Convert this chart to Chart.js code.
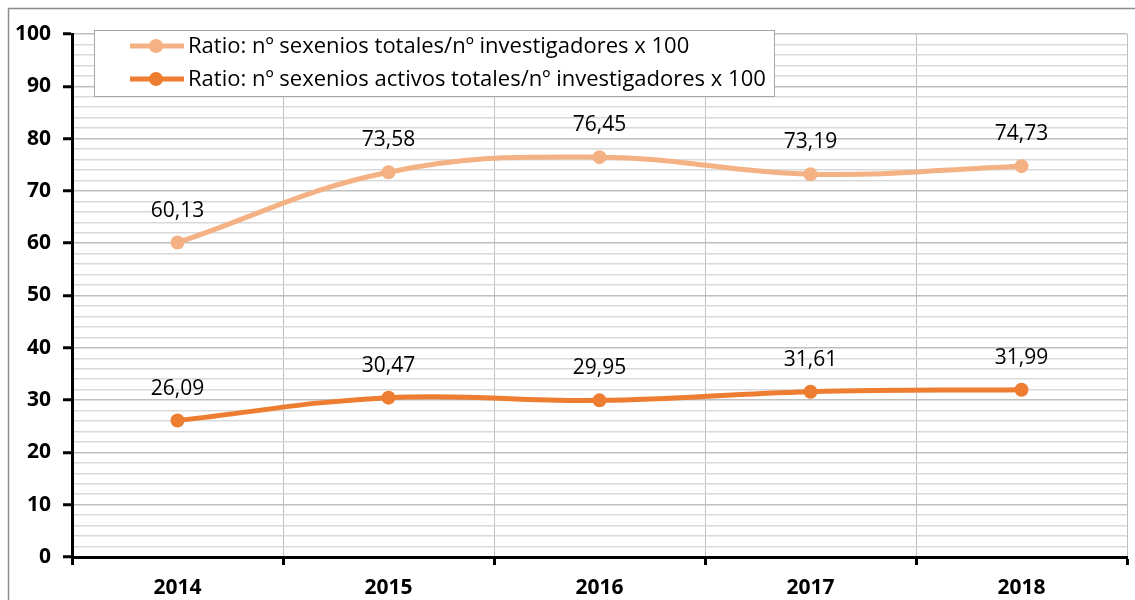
<!DOCTYPE html>
<html>
<head>
<meta charset="utf-8">
<script src="https://cdn.jsdelivr.net/npm/chart.js@4"></script>
<style>
  html, body { margin: 0; padding: 0; background: #fff; }
  #wrap { width: 1135px; height: 600px; }
</style>
</head>
<body>
<div id="wrap"><canvas id="grafica" width="1135" height="600"></canvas></div>
<script>
// datos
const years = ["2014", "2015", "2016", "2017", "2018"];
const ratioTotales = [60.13, 73.58, 76.45, 73.19, 74.73];
const ratioActivos = [26.09, 30.47, 29.95, 31.61, 31.99];
const labelTotales = "Ratio: nº sexenios totales/nº investigadores x 100";
const labelActivos = "Ratio: nº sexenios activos totales/nº investigadores x 100";

const colTotales = "#F4B183";
const colActivos = "#ED7D31";
const fuente = "'Open Sans', 'Liberation Sans', sans-serif";

function fmt(v) { return v.toFixed(2).replace(".", ","); }

// marco exterior, fondo blanco
const marco = {
  id: "marco",
  beforeDraw(chart) {
    const c = chart.ctx;
    c.save();
    c.fillStyle = "#fff";
    c.fillRect(0, 0, chart.width, chart.height);
    c.strokeStyle = "#8c8c8c";
    c.lineWidth = 1.5;
    c.strokeRect(8.5, 8.5, chart.width + 20, chart.height + 20);
    c.restore();
  }
};

// etiquetas de valores encima de los puntos
const etiquetas = {
  id: "etiquetas",
  afterDatasetsDraw(chart) {
    const c = chart.ctx;
    c.save();
    c.font = "21px " + fuente;
    c.fillStyle = "#000";
    c.textAlign = "center";
    c.textBaseline = "middle";
    chart.data.datasets.forEach((ds, i) => {
      chart.getDatasetMeta(i).data.forEach((pt, j) => {
        c.fillText(fmt(ds.data[j]), pt.x, pt.y - 32);
      });
    });
    c.restore();
  }
};

// leyenda dentro del area
const leyenda = {
  id: "leyenda",
  afterDraw(chart) {
    const c = chart.ctx;
    c.save();
    c.fillStyle = "#fff";
    c.fillRect(94, 30, 680, 66);
    c.strokeStyle = "#a6a6a6";
    c.lineWidth = 1;
    c.strokeRect(94.5, 30.5, 680, 66);
    c.font = "22px " + fuente;
    c.textBaseline = "middle";
    chart.data.datasets.forEach((ds, i) => {
      const y = 46 + i * 33;
      c.strokeStyle = ds.borderColor;
      c.lineWidth = 5;
      c.beginPath();
      c.moveTo(130, y);
      c.lineTo(184, y);
      c.stroke();
      c.fillStyle = ds.borderColor;
      c.beginPath();
      c.arc(156, y, 7, 0, Math.PI * 2);
      c.fill();
      c.fillStyle = "#000";
      c.fillText(ds.label, 188, y + 1);
    });
    c.restore();
  }
};

const ctx = document.getElementById("grafica").getContext("2d");

new Chart(ctx, {
  type: "line",
  data: {
    labels: years,
    datasets: [
      {
        label: labelTotales,
        data: ratioTotales,
        borderColor: colTotales,
        backgroundColor: colTotales,
        borderWidth: 5,
        pointRadius: 7,
        pointBorderWidth: 0,
        tension: 0.4
      },
      {
        label: labelActivos,
        data: ratioActivos,
        borderColor: colActivos,
        backgroundColor: colActivos,
        borderWidth: 5,
        pointRadius: 7,
        pointBorderWidth: 0,
        tension: 0.4
      }
    ]
  },
  options: {
    responsive: false,
    animation: false,
    layout: { padding: { left: 0, top: 34, right: 8, bottom: 0 } },
    plugins: {
      legend: { display: false },
      tooltip: { enabled: false }
    },
    scales: {
      x: {
        offset: true,
        grid: {
          offset: true,
          color: "#bfbfbf",
          lineWidth: 1,
          tickLength: 8,
          tickColor: "#000",
          tickWidth: 3
        },
        border: { color: "#000", width: 3 },
        ticks: {
          color: "#000",
          padding: 10,
          font: { family: fuente, size: 21, weight: "bold" }
        },
        afterFit(s) { s.height = 43; }
      },
      y: {
        min: 0,
        max: 100,
        ticks: {
          stepSize: 2,
          autoSkip: false,
          color: "#000",
          padding: 12,
          font: { family: fuente, size: 21, weight: "bold" },
          callback: v => (v % 10 === 0 ? v : "")
        },
        grid: {
          color: c => (c.tick && c.tick.value % 10 === 0 ? "#bfbfbf" : "#d9d9d9"),
          lineWidth: 1.5,
          tickLength: 9,
          tickWidth: 3,
          tickColor: c => (c.tick && c.tick.value % 10 === 0 ? "#000" : "rgba(0,0,0,0)")
        },
        border: { color: "#000", width: 3 },
        afterFit(s) { s.width = 72; }
      }
    }
  },
  plugins: [marco, etiquetas, leyenda]
});
</script>
</body>
</html>
